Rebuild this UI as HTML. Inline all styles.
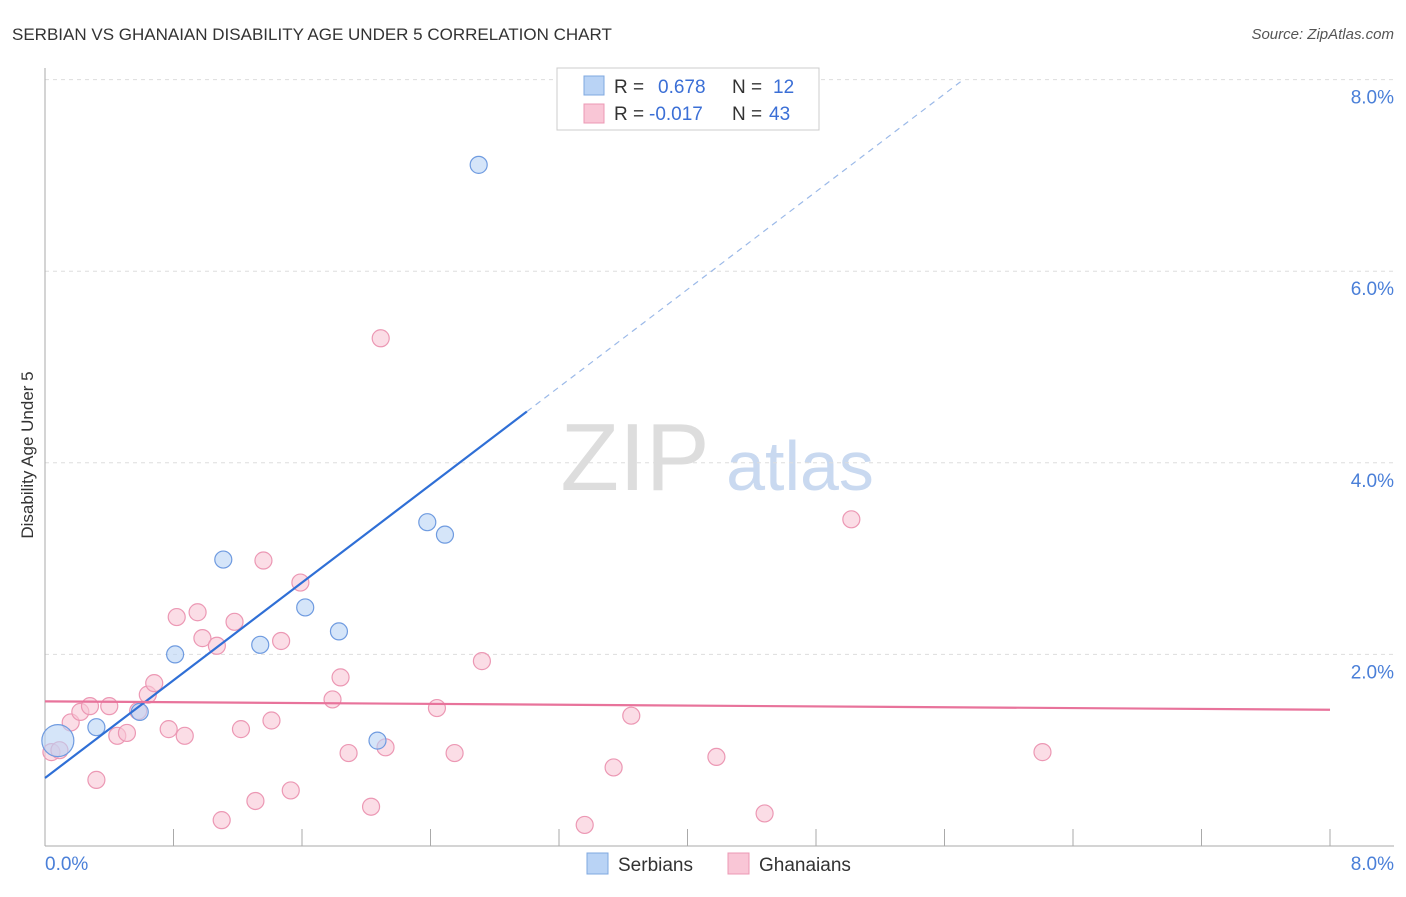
<!DOCTYPE html>
<html><head><meta charset="utf-8"><style>
body{margin:0;background:#fff;font-family:"Liberation Sans",sans-serif}
svg text{font-family:"Liberation Sans",sans-serif}
</style></head><body>
<svg id="c" width="1406" height="892" xmlns="http://www.w3.org/2000/svg">
<text x="12" y="40" font-size="17" fill="#333">SERBIAN VS GHANAIAN DISABILITY AGE UNDER 5 CORRELATION CHART</text>
<text x="1394" y="39" font-size="15" fill="#555" font-style="italic" text-anchor="end">Source: ZipAtlas.com</text>
<text x="33" y="455" font-size="17" fill="#333" transform="rotate(-90 33 455)" text-anchor="middle">Disability Age Under 5</text>
<g><text x="635" y="490" font-size="96" fill="#ddd" font-family="Liberation Serif" text-anchor="middle">ZIP</text><text x="800" y="490" font-size="70" fill="#c9d9f0" text-anchor="middle">atlas</text></g>
<g id="grid"></g><g id="marks"></g>
<g>
<rect x="557" y="68" width="262" height="62" fill="#fff" stroke="#ccc"/>
<rect x="584" y="76" width="20" height="19" fill="#b9d3f5" stroke="#7fa8e0"/>
<rect x="584" y="104" width="20" height="19" fill="#f9c6d6" stroke="#ec98b4"/>
<text x="614" y="93" font-size="19" fill="#333">R = <tspan fill="#3b6fd6" x="658">0.678</tspan><tspan x="732" fill="#333">N = </tspan><tspan fill="#3b6fd6" x="773">12</tspan></text>
<text x="614" y="120" font-size="19" fill="#333">R = <tspan fill="#3b6fd6" x="649">-0.017</tspan><tspan x="732" fill="#333">N = </tspan><tspan fill="#3b6fd6" x="769">43</tspan></text>
</g>
<g>
<rect x="587" y="853" width="21" height="21" fill="#b9d3f5" stroke="#7fa8e0"/><text x="618" y="871" font-size="19" fill="#333">Serbians</text>
<rect x="728" y="853" width="21" height="21" fill="#f9c6d6" stroke="#ec98b4"/><text x="759" y="871" font-size="19" fill="#333">Ghanaians</text>
</g>
</svg>
<script>
const yTicks=[2,4,6,8];
const xTickLabels=["0.0%","8.0%"];
const serbX=[0.08,0.32,0.59,0.81,1.11,1.34,1.62,1.83,2.07,2.38,2.49,2.70];
const serbY=[1.10,1.24,1.40,2.00,2.99,2.10,2.49,2.24,1.10,3.38,3.25,7.11];
const ghanX=[0.04,0.09,0.16,0.22,0.28,0.32,0.40,0.45,0.51,0.58,0.64,0.68,0.77,0.82,0.87,0.95,0.98,1.07,1.10,1.18,1.22,1.31,1.36,1.41,1.47,1.53,1.59,1.79,1.84,1.89,2.03,2.09,2.12,2.44,2.55,2.72,3.36,3.54,3.65,4.18,4.48,5.02,6.21];
const ghanY=[0.98,1.00,1.29,1.40,1.46,0.69,1.46,1.15,1.18,1.41,1.58,1.70,1.22,2.39,1.15,2.44,2.17,2.09,0.27,2.34,1.22,0.47,2.98,1.31,2.14,0.58,2.75,1.53,1.76,0.97,0.41,5.30,1.03,1.44,0.97,1.93,0.22,0.82,1.36,0.93,0.34,3.41,0.98];
const serbLine=[0.71,1.275]; // intercept, slope
const ghanLine=[1.51,-0.011];
const X=v=>45+v*160.625, Y=v=>846-v*95.8;
const NS="http://www.w3.org/2000/svg";
function mk(t,a,p){const e=document.createElementNS(NS,t);for(const k in a)e.setAttribute(k,a[k]);p.appendChild(e);return e;}
const g=document.getElementById('grid'),m=document.getElementById('marks');
yTicks.forEach(v=>{
const l=mk('line',{x1:45,x2:1394,y1:Y(v),y2:Y(v),stroke:'#ddd','stroke-dasharray':'4,4'},g);


const t=mk('text',{x:1394,y:Y(v)+24,'font-size':19,fill:'#4a7fd8','text-anchor':'end'},g);t.textContent=v.toFixed(1)+'%';


});
const ax=mk('line',{x1:45,x2:45,y1:68,y2:846,stroke:'#aaa'},g);


const bx=mk('line',{x1:45,x2:1394,y1:846,y2:846,stroke:'#aaa'},g);


for(let i=1;i<=10;i++){const tk=mk('line',{x1:X(i*0.8),x2:X(i*0.8),y1:829,y2:846,stroke:'#aaa'},g);

}
xTickLabels.forEach((s,i)=>{const t=mk('text',{x:i?1394:45,y:870,'font-size':19,fill:'#4a7fd8','text-anchor':i?'end':'start'},g);t.textContent=s;

});
ghanX.forEach((x,i)=>{const c=mk('circle',{cx:X(x),cy:Y(ghanY[i]),r:8.5,fill:'#f9c6d6','fill-opacity':0.6,stroke:'#ec98b4','stroke-width':1.2},m);

});
serbX.forEach((x,i)=>{const c=mk('circle',{cx:X(x),cy:Y(serbY[i]),r:i==0?16:8.5,fill:'#b9d3f5','fill-opacity':0.6,stroke:'#6f9be0','stroke-width':1.2},m);

});
const sl=mk('line',{x1:X(0),y1:Y(serbLine[0]),x2:X(3),y2:Y(serbLine[0]+3*serbLine[1]),stroke:'#2f6fd6','stroke-width':2.2},m);


const sd=mk('line',{x1:X(3),y1:Y(serbLine[0]+3*serbLine[1]),x2:X(5.7),y2:Y(serbLine[0]+5.7*serbLine[1]),stroke:'#9bb9e8','stroke-width':1.2,'stroke-dasharray':'6,5'},m);


const gl=mk('line',{x1:X(0),y1:Y(ghanLine[0]),x2:X(8),y2:Y(ghanLine[0]+8*ghanLine[1]),stroke:'#e8739b','stroke-width':2.2},m);


</script>
</body></html>
